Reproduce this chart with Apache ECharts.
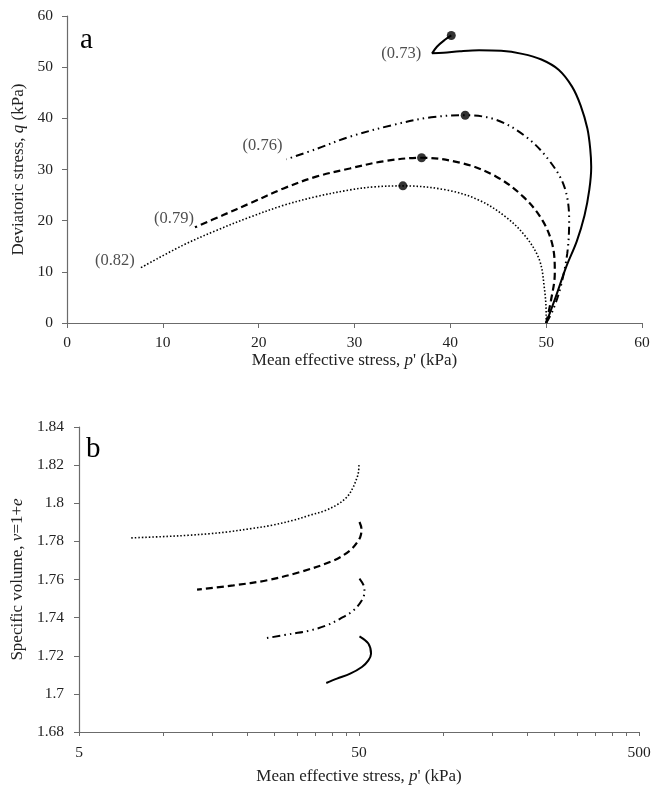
<!DOCTYPE html>
<html>
<head>
<meta charset="utf-8">
<script src="https://cdn.jsdelivr.net/npm/echarts@6/dist/echarts.min.js"></script>
<style>
  html, body { margin: 0; padding: 0; background: #fff; }
  #chart { width: 655px; height: 792px; }
</style>
</head>
<body>
<div id="chart"></div>
<script>
// panel a: stress paths, from start (50, 0) to the free end
const p73 = [50, 51.0, 52.1, 53.2, 54.0, 54.5, 54.7, 54.6, 54.3, 53.6, 52.7, 51.3, 49.5, 47.5, 45.3, 43.0, 41.0, 39.3, 38.1, 38.6, 39.4, 40.1];
const q73 = [0, 5.1, 11.0, 16.0, 21.0, 26.0, 30.5, 34.0, 38.0, 42.5, 46.2, 49.5, 51.5, 52.6, 53.2, 53.3, 53.1, 52.8, 52.7, 54.0, 55.3, 56.2];

const p76 = [50, 50.7, 51.5, 52.2, 52.4, 51.9, 50.3, 47.9, 44.8, 41.55, 38.0, 34.0, 29.5, 26.0, 22.9];
const q76 = [0, 2.5, 7.0, 13.6, 20.1, 26.6, 31.8, 36.4, 39.7, 40.6, 40.2, 38.7, 36.4, 34.0, 32.0];

const p79 = [50, 50.5, 50.9, 50.7, 49.6, 47.6, 44.8, 41.3, 37.0, 33.0, 29.5, 26.0, 22.6, 19.1, 16.3, 13.35];
const q79 = [0, 4.4, 9.7, 14.9, 20.1, 24.7, 28.6, 31.2, 32.3, 31.6, 30.2, 28.6, 26.3, 23.4, 21.1, 18.7];

const p82 = [50, 50.0, 49.8, 49.3, 47.9, 45.8, 43.0, 39.6, 35.05, 32.0, 29.5, 26.0, 22.6, 19.1, 15.6, 12.1, 7.7];
const q82 = [0, 1.8, 7.0, 12.3, 16.8, 20.7, 24.0, 26.0, 26.8, 26.6, 26.0, 24.7, 23.0, 20.7, 18.1, 15.2, 10.8];

// filled circles on each path
const peakP = [40.1, 41.55, 37.0, 35.05];
const peakQ = [56.2, 40.6, 32.3, 26.8];

// void ratio labels and the point they sit next to
const labelText = ['(0.73)', '(0.76)', '(0.79)', '(0.82)'];
const labelP = [38.1, 22.9, 13.35, 7.7];
const labelQ = [52.7, 32.0, 18.7, 10.8];

// panel b: specific volume against p' (log axis)
const pv82 = [50, 49.8, 49.3, 47.5, 45.3, 42.0, 38.1, 33.0, 29.0, 24.5, 20.6, 17.0, 14.6, 12.3, 10.35, 7.6];
const v82 = [1.820, 1.8165, 1.8138, 1.808, 1.8033, 1.7995, 1.7963, 1.7935, 1.791, 1.7885, 1.7867, 1.785, 1.784, 1.7832, 1.7826, 1.7818];

const pv79 = [50.2, 51.0, 50.8, 49.8, 46.5, 40.6, 30.8, 23.5, 17.8, 13.2];
const v79 = [1.7902, 1.7867, 1.7835, 1.7805, 1.7753, 1.770, 1.7639, 1.7596, 1.7569, 1.7547];

const pv76 = [50.2, 51.9, 52.3, 51.2, 47.8, 42.9, 38.4, 33.5, 29.0, 22.8];
const v76 = [1.7605, 1.757, 1.7534, 1.7491, 1.7438, 1.7395, 1.736, 1.7333, 1.7316, 1.729];

const pv73 = [50.2, 54.0, 55.2, 54.0, 51.2, 46.5, 41.7, 38.2];
const v73 = [1.7302, 1.7264, 1.7211, 1.7176, 1.7141, 1.7106, 1.708, 1.7057];

const logLabels = [5, 50, 500];
const logTicks = [5, 10, 15, 20, 25, 30, 35, 40, 45, 50, 100, 150, 200, 250, 300, 350, 400, 450, 500];

function zip(xs, ys) {
  return xs.map((x, i) => [x, ys[i]]);
}

const serif = 'Liberation Serif';
const axisGray = '#6b6b6b';
const labelOffsets = [[-5, 0], [2, -14], [5, -9], [0, -7]];

const solid = { color: '#000', width: 2, type: 'solid' };
const dashDot = { color: '#000', width: 2, type: [8, 4, 1.5, 4, 1.5, 4] };
const dashed = { color: '#000', width: 2.2, type: [7, 4] };
const dotted = { color: '#000', width: 1.6, type: [1.5, 2] };

function curve(data, style, xi) {
  return {
    type: 'line',
    data: data,
    xAxisIndex: xi,
    yAxisIndex: xi,
    showSymbol: false,
    symbol: 'none',
    smooth: 0.35,
    lineStyle: style,
    silent: true,
    z: 2
  };
}

const nameRich = {
  a: { fontFamily: serif, fontSize: 17, color: '#222' },
  i: { fontFamily: serif, fontSize: 17, color: '#222', fontStyle: 'italic' }
};

const axisCommon = {
  axisLine: { show: true, lineStyle: { color: axisGray, width: 1.2 } },
  axisTick: { show: true, length: 5, lineStyle: { color: axisGray } },
  axisLabel: { fontFamily: serif, fontSize: 15.5, color: '#222' },
  splitLine: { show: false },
  nameLocation: 'middle',
  nameTextStyle: { rich: nameRich }
};

const letterStyle = { fontFamily: serif, fontSize: 29, fontWeight: 'normal', color: '#000' };

const chart = echarts.init(document.getElementById('chart'));

chart.setOption({
  animation: false,
  backgroundColor: '#fff',
  title: [
    { text: 'a', left: 75, top: 21, textStyle: letterStyle },
    { text: 'b', left: 81, top: 430, textStyle: letterStyle }
  ],
  grid: [
    { left: 67, top: 16, width: 575, height: 307 },
    { left: 79, top: 427, width: 560, height: 305 }
  ],
  xAxis: [
    Object.assign({}, axisCommon, {
      type: 'value', gridIndex: 0, min: 0, max: 60, interval: 10,
      axisLabel: Object.assign({}, axisCommon.axisLabel, { margin: 12 }),
      name: "{a|Mean effective stress, }{i|p}{a|' (kPa)}", nameGap: 29
    }),
    Object.assign({}, axisCommon, {
      type: 'log', gridIndex: 1, min: 5, max: 500, logBase: 10,
      axisLabel: Object.assign({}, axisCommon.axisLabel, { margin: 13, customValues: logLabels }),
      axisTick: Object.assign({}, axisCommon.axisTick, { length: 4, customValues: logTicks }),
      name: "{a|Mean effective stress, }{i|p}{a|' (kPa)}", nameGap: 36
    })
  ],
  yAxis: [
    Object.assign({}, axisCommon, {
      type: 'value', gridIndex: 0, min: 0, max: 60, interval: 10,
      axisLabel: Object.assign({}, axisCommon.axisLabel, { margin: 14 }),
      name: '{a|Deviatoric stress, }{i|q}{a| (kPa)}', nameGap: 37
    }),
    Object.assign({}, axisCommon, {
      type: 'value', gridIndex: 1, min: 1.68, max: 1.84, interval: 0.02,
      axisLabel: Object.assign({}, axisCommon.axisLabel, { margin: 15 }),
      name: '{a|Specific volume, }{i|v}{a|=1+}{i|e}', nameGap: 51
    })
  ],
  series: [
    curve(zip(p73, q73), solid, 0),
    curve(zip(p76, q76), dashDot, 0),
    curve(zip(p79, q79), dashed, 0),
    curve(zip(p82, q82), dotted, 0),
    {
      type: 'scatter',
      xAxisIndex: 0, yAxisIndex: 0,
      data: zip(peakP, peakQ),
      symbolSize: 9,
      itemStyle: { color: '#000' },
      silent: true,
      z: 3
    },
    {
      type: 'scatter',
      xAxisIndex: 0, yAxisIndex: 0,
      data: labelP.map((x, i) => ({
        value: [x, labelQ[i]],
        label: { offset: labelOffsets[i], formatter: labelText[i] }
      })),
      symbolSize: 0,
      label: {
        show: true, position: 'left', distance: 6,
        fontFamily: serif, fontSize: 16.5, color: '#222'
      },
      silent: true,
      z: 4
    },
    curve(zip(pv82, v82), dotted, 1),
    curve(zip(pv79, v79), dashed, 1),
    curve(zip(pv76, v76), dashDot, 1),
    curve(zip(pv73, v73), solid, 1)
  ]
});
</script>
</body>
</html>
